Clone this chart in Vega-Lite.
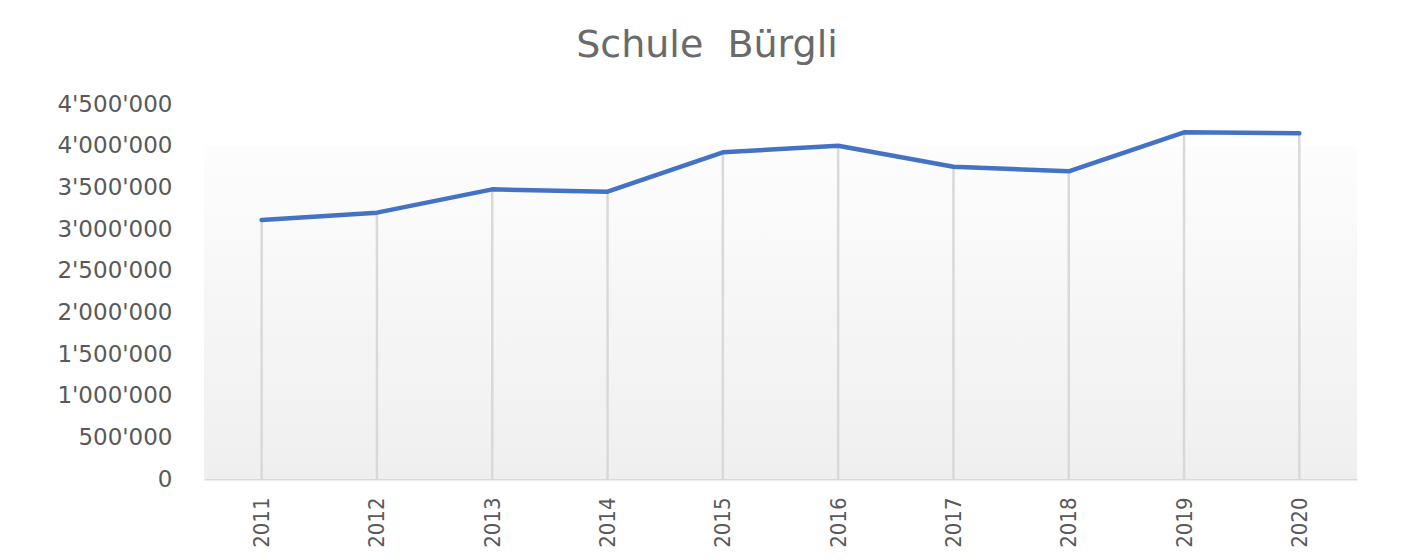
{
  "$schema": "https://vega.github.io/schema/vega-lite/v6.json",
  "autosize": "none",
  "width": 1153,
  "height": 375,
  "padding": {"left": 204, "top": 104, "right": 50, "bottom": 81},
  "background": "#ffffff",
  "config": {"view": {"stroke": null}},
  "title": {
    "text": "Schule\u00a0 Bürgli",
    "font": "DejaVu Sans",
    "fontSize": 38,
    "fontWeight": "normal",
    "color": "#6a6a6a",
    "offset": 28,
    "anchor": "middle",
    "frame": "bounds"
  },
  "data": {
    "values": [
      {"year": "2011", "value": 3108000},
      {"year": "2012", "value": 3196000},
      {"year": "2013", "value": 3476000},
      {"year": "2014", "value": 3448000},
      {"year": "2015", "value": 3920000},
      {"year": "2016", "value": 4000000},
      {"year": "2017", "value": 3748000},
      {"year": "2018", "value": 3692000},
      {"year": "2019", "value": 4160000},
      {"year": "2020", "value": 4148000}
    ]
  },
  "encoding": {
    "x": {
      "field": "year",
      "type": "ordinal",
      "scale": {"type": "point", "padding": 0.5},
      "axis": {
        "title": null,
        "labelAngle": -90,
        "labelAlign": "right",
        "labelBaseline": "middle",
        "labelFont": "DejaVu Sans Condensed, sans-serif",
        "labelFontSize": 22,
        "labelColor": "#595959",
        "labelPadding": 18,
        "ticks": false,
        "grid": false,
        "domainColor": "#d9d9d9",
        "domainWidth": 2
      }
    }
  },
  "layer": [
    {
      "mark": {
        "type": "rect",
        "fill": {
          "gradient": "linear",
          "x1": 0, "y1": 0, "x2": 0, "y2": 1,
          "stops": [
            {"offset": 0, "color": "#fdfdfd"},
            {"offset": 1, "color": "#efefef"}
          ]
        }
      },
      "encoding": {
        "x": null,
        "y": {"datum": 4000000, "type": "quantitative"},
        "y2": {"datum": 0}
      }
    },
    {
      "mark": {"type": "rule", "color": "#d9d9d9", "strokeWidth": 2.5},
      "encoding": {
        "y": {"field": "value", "type": "quantitative"},
        "y2": {"datum": 0}
      }
    },
    {
      "mark": {"type": "line", "color": "#4472c4", "strokeWidth": 4.5, "strokeCap": "round", "strokeJoin": "round"},
      "encoding": {
        "y": {
          "field": "value",
          "type": "quantitative",
          "scale": {"domain": [0, 4500000], "nice": false},
          "axis": {
            "title": null,
            "values": [0, 500000, 1000000, 1500000, 2000000, 2500000, 3000000, 3500000, 4000000, 4500000],
            "labelExpr": "replace(format(datum.value, ',d'), /,/g, \"'\")",
            "labelFont": "DejaVu Sans",
            "labelFontSize": 23,
            "labelColor": "#595959",
            "labelPadding": 32,
            "ticks": false,
            "grid": false,
            "domain": false
          }
        }
      }
    }
  ]
}
